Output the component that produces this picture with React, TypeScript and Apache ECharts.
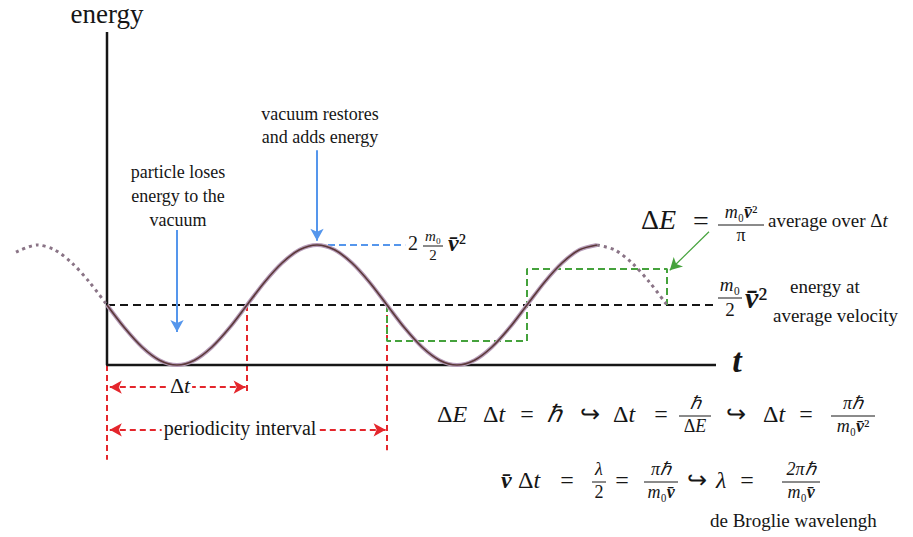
import React, { useEffect, useRef } from "react";
import * as echarts from "echarts";

// Energy of the particle against time, in units of (m0/2)·v̄² and of Δt.
const solidT = [
  0, 0.125, 0.25, 0.375, 0.5, 0.625, 0.75, 0.875, 1, 1.125, 1.25, 1.375, 1.5, 1.625, 1.75, 1.875, 2,
  2.125, 2.25, 2.375, 2.5, 2.625, 2.75, 2.875, 3, 3.125, 3.25, 3.375, 3.5,
];
const solidE = [
  1, 0.62, 0.3, 0.08, 0, 0.08, 0.3, 0.62, 1, 1.38, 1.7, 1.92, 2, 1.92, 1.7, 1.38, 1,
  0.62, 0.3, 0.08, 0, 0.08, 0.3, 0.62, 1, 1.38, 1.7, 1.92, 2,
];
const leadT = [-0.65, -0.5, -0.375, -0.25, -0.125, 0];
const leadE = [1.88, 2, 1.92, 1.7, 1.38, 1];
const tailT = [3.5, 3.625, 3.75, 3.875, 4];
const tailE = [2, 1.92, 1.7, 1.38, 1];

// Average energy over each Δt (green step outline)
const avgT = [2, 2, 3, 3, 4, 4];
const avgE = [1, 0.4, 0.4, 1.6, 1.6, 1];

// Reference levels
const baseLevel = 1; // (m0/2)·v̄²
const peakLevel = 2; // 2·(m0/2)·v̄²
const axisTop = 5.55;
const axisEnd = 4.35;
const baseEnd = 4.33;

// Red interval markers
const markerT = [0, 1, 2];
const markerBottom = [-1.58, -0.45, -1.42];
const dtArrowY = -0.37;
const periodArrowY = -1.08;

const INK = "#161616";
const SERIF = "Liberation Serif";
const BLUE = "#5596ec";
const RED = "#e4262c";
const GREEN = "#45a23c";

const zip = (xs: number[], ys: number[]) => xs.map((x, i) => [x, ys[i]]);

// Text placed by its vertical centre; drawn top-anchored with no z override.
function tx(x: number, y: number, text: string, size: number, extra: any = {}) {
  const style: any = {
    text,
    fontFamily: SERIF,
    fontSize: size,
    fill: INK,
    textAlign: extra.align ?? "left",
    textVerticalAlign: "top",
  };
  if (extra.italic) style.fontStyle = "italic";
  if (extra.bold) style.fontWeight = "bold";
  if (text.indexOf("{") >= 0) {
    style.rich = {
      i: { fontFamily: SERIF, fontStyle: "italic", fontSize: size },
      b: { fontFamily: SERIF, fontStyle: "italic", fontWeight: "bold", fontSize: size },
    };
  }
  if (extra.bg) {
    style.backgroundColor = extra.bg;
    style.padding = [0, 2];
  }
  const el: any = { type: "text", x, y: y - size * 0.58, style };
  if (extra.bg) el.z = 100;
  return el;
}

function frac(cx: number, cy: number, num: string, den: string, w: number, size: number) {
  return [
    tx(cx, cy - size * 0.62, num, size, { align: "center" }),
    {
      type: "line",
      shape: { x1: cx - w / 2, y1: cy, x2: cx + w / 2, y2: cy },
      style: { stroke: INK, lineWidth: 1 },
    },
    tx(cx, cy + size * 0.66, den, size, { align: "center" }),
  ];
}

const VBAR = "v\u0304";

function buildGraphics() {
  return [
    tx(107, 16, "energy", 27, { align: "center" }),

    tx(178, 173, "particle loses", 18, { align: "center" }),
    tx(178, 197, "energy to the", 18, { align: "center" }),
    tx(178, 221, "vacuum", 18, { align: "center" }),

    tx(320, 115, "vacuum restores", 18, { align: "center" }),
    tx(320, 138, "and adds energy", 18, { align: "center" }),

    // 2·(m0/2)·v̄² at the peak
    tx(408, 245, "2", 20),
    ...frac(433, 246, "{i|m}\u2080", "2", 20, 15),
    tx(448, 245, `{b|${VBAR}}\u00b2`, 24),

    // ΔE = m0 v̄² / π average over Δt
    tx(641, 222, "\u0394{i|E}", 28),
    tx(701, 223, "=", 28, { align: "center" }),
    ...frac(741, 225, `{i|m}\u2080{b|${VBAR}}\u00b2`, "\u03c0", 46, 18),
    tx(768, 222, "average over \u0394{i|t}", 19),

    // (m0/2)·v̄² energy at average velocity
    ...frac(730, 298, "{i|m}\u2080", "2", 24, 19),
    tx(745, 300, `{b|${VBAR}}\u00b2`, 30),
    tx(790, 288, "energy at", 19),
    tx(773, 317, "average velocity", 19),

    tx(737, 363, "t", 34, { align: "center", italic: true, bold: true }),

    tx(180, 387, "\u0394{i|t}", 22, { align: "center", bg: "#fff" }),
    tx(240, 430, "periodicity interval", 20, { align: "center", bg: "#fff" }),

    // ΔE Δt = ħ ↪ Δt = ħ/ΔE ↪ Δt = πħ/(m0 v̄²)
    tx(437, 416, "\u0394{i|E}", 24),
    tx(483, 416, "\u0394{i|t}", 24),
    tx(527, 416, "=", 24, { align: "center" }),
    tx(547, 416, "\u210f", 24, { italic: true }),
    tx(590, 416, "\u21aa", 24, { align: "center" }),
    tx(613, 416, "\u0394{i|t}", 24),
    tx(661, 416, "=", 24, { align: "center" }),
    ...frac(695, 416, "{i|\u210f}", "\u0394{i|E}", 32, 18),
    tx(736, 416, "\u21aa", 24, { align: "center" }),
    tx(763, 416, "\u0394{i|t}", 24),
    tx(806, 416, "=", 24, { align: "center" }),
    ...frac(853, 416, "{i|\u03c0\u210f}", `{i|m}\u2080{b|${VBAR}}\u00b2`, 44, 18),

    // v̄ Δt = λ/2 = πħ/(m0 v̄) ↪ λ = 2πħ/(m0 v̄)
    tx(501, 482, `{b|${VBAR}}`, 24),
    tx(518, 482, "\u0394{i|t}", 24),
    tx(567, 482, "=", 24, { align: "center" }),
    ...frac(599, 482, "{i|\u03bb}", "2", 14, 18),
    tx(622, 482, "=", 24, { align: "center" }),
    ...frac(661, 482, "{i|\u03c0\u210f}", `{i|m}\u2080{b|${VBAR}}`, 34, 18),
    tx(697, 482, "\u21aa", 24, { align: "center" }),
    tx(716, 482, "\u03bb", 24, { italic: true }),
    tx(747, 482, "=", 24, { align: "center" }),
    ...frac(801, 482, "{i|2\u03c0\u210f}", `{i|m}\u2080{b|${VBAR}}`, 38, 18),

    tx(710, 522, "de Broglie wavelengh", 19),
  ];
}

function buildOption() {
  const plain = (name: string, data: any[], lineStyle: any, z = 3, smooth: any = false) => ({
    type: "line",
    name,
    data,
    symbol: "none",
    smooth,
    silent: true,
    lineStyle,
    z,
  });

  const markers = markerT.map((t, i) =>
    plain(
      "marker" + i,
      [
        [t, baseLevel],
        [t, markerBottom[i]],
      ],
      { color: RED, width: 2, type: [6, 4] },
      1
    )
  );

  const arrowSeries = (name: string, items: any[], lineStyle: any, symbol: any, z = 1) => ({
    type: "line",
    name,
    data: [],
    silent: true,
    z,
    markLine: {
      silent: true,
      animation: false,
      symbol,
      symbolSize: [10, 12],
      label: { show: false },
      lineStyle,
      data: items,
    },
  });

  return {
    animation: false,
    grid: { left: 2, top: 5, width: 910, height: 528, containLabel: false },
    xAxis: { type: "value", min: -0.75, max: 5.75, show: false },
    yAxis: { type: "value", min: -2.8, max: 6, show: false },
    graphic: buildGraphics(),
    series: [
      plain(
        "axes",
        [
          [0, axisTop],
          [0, 0],
          [axisEnd, 0],
        ],
        { color: INK, width: 2.5 },
        5
      ),
      plain(
        "average level",
        [
          [0, baseLevel],
          [baseEnd, baseLevel],
        ],
        { color: INK, width: 2, type: [8, 5] },
        4
      ),
      plain(
        "peak level",
        [
          [1.5, peakLevel],
          [2.13, peakLevel],
        ],
        { color: BLUE, width: 2, type: [7, 4] },
        4
      ),
      ...markers,
      plain("mean over Δt", zip(avgT, avgE), { color: GREEN, width: 2, type: [7, 4] }, 4),
      plain("energy halo", zip(solidT, solidE), { color: "#b69cb8", width: 4 }, 6, 0.3),
      plain("energy", zip(solidT, solidE), { color: "#5b3838", width: 1.6 }, 7, 0.3),
      plain("energy before", zip(leadT, leadE), { color: "#8a7486", width: 3, type: [3, 4] }, 6, 0.3),
      plain("energy after", zip(tailT, tailE), { color: "#8a7486", width: 3, type: [3, 4] }, 6, 0.3),
      arrowSeries(
        "blue arrows",
        [
          [{ coord: [0.5, 2.25] }, { coord: [0.5, 0.55] }],
          [{ coord: [1.5, 3.58] }, { coord: [1.5, 2.07] }],
        ],
        { color: BLUE, width: 2, type: "solid" },
        ["none", "arrow"],
        4
      ),
      arrowSeries(
        "interval arrows",
        [
          [{ coord: [0.02, dtArrowY] }, { coord: [0.99, dtArrowY] }],
          [{ coord: [0.02, periodArrowY] }, { coord: [1.99, periodArrowY] }],
        ],
        { color: RED, width: 2, type: [6, 4] },
        ["arrow", "arrow"]
      ),
      arrowSeries(
        "pointer",
        [[{ coord: [4.3, 2.22] }, { coord: [4.02, 1.58] }]],
        { color: GREEN, width: 1.2, type: "solid" },
        ["none", "arrow"],
        4
      ),
    ],
  };
}

export default function App() {
  const ref = useRef<HTMLDivElement>(null);
  useEffect(() => {
    if (!ref.current) return;
    const chart = echarts.init(ref.current, undefined, { renderer: "svg" });
    chart.setOption(buildOption() as any);
    return () => chart.dispose();
  }, []);
  return (
    <div
      ref={ref}
      style={{ position: "fixed", left: 0, top: 0, width: 913, height: 537, background: "#fff" }}
    />
  );
}
